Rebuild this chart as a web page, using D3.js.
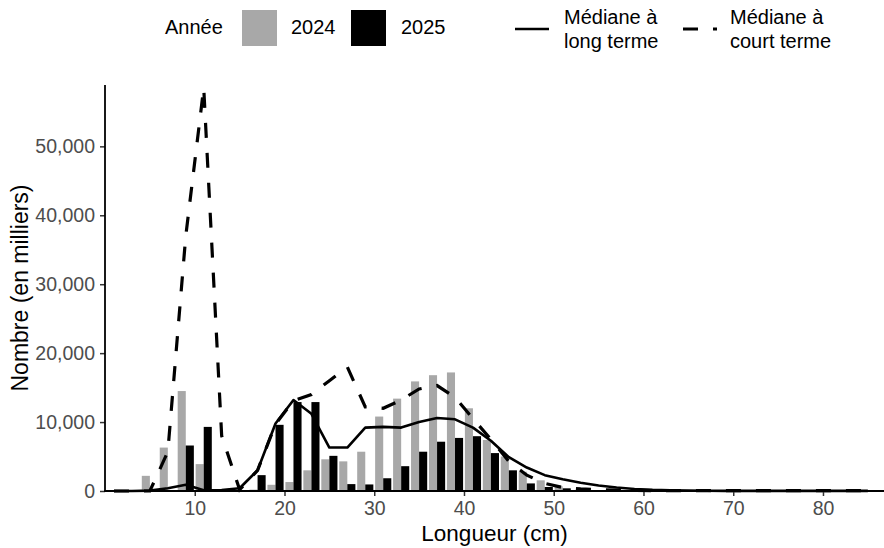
<!DOCTYPE html>
<html lang="fr">
<head>
<meta charset="utf-8">
<script src="https://cdn.jsdelivr.net/npm/d3@7"></script>
<style>
  html, body { margin: 0; padding: 0; background: #fff; }
  svg { display: block; font-family: "Liberation Sans", Arial, Helvetica, sans-serif; }
</style>
</head>
<body>
<svg id="chart" width="884" height="548"></svg>
<script>
// Length classes (cm), centre of each 2-cm bin
const lengths = [1, 3, 5, 7, 9, 11, 13, 15, 17, 19, 21, 23, 25, 27, 29, 31, 33, 35, 37, 39, 41,
  43, 45, 47, 49, 51, 53, 55, 57, 59, 61, 63, 65, 67, 69, 71, 73, 75, 77, 79, 81, 83, 85];

// Numbers at length (thousands), 2024 survey
const values2024 = [0, 0, 2200, 6300, 14500, 3900, 0, 0, 200, 900, 1300, 3000, 4600, 4300, 5700,
  10800, 13400, 15900, 16800, 17200, 12000, 7400, 5000, 2800, 1550, 680, 150, 60, 0, 0,
  0, 0, 0, 0, 0, 0, 0, 0, 0, 0, 0, 0, 0];

// Numbers at length (thousands), 2025 survey
const values2025 = [0, 0, 0, 0, 6600, 9300, 0, 0, 2300, 9600, 12900, 12900, 5100, 1000, 950,
  1850, 3600, 5700, 7150, 7700, 7950, 5500, 3000, 1100, 580, 390, 250, 120, 0, 0,
  0, 0, 0, 0, 0, 0, 0, 0, 0, 0, 0, 0, 0];

// Long-term median
const medianLong = [0, 0, 50, 400, 900, 100, 150, 400, 3000, 9800, 13200, 11200, 6300, 6300, 9200,
  9300, 9200, 10000, 10600, 10400, 9200, 7300, 4900, 3400, 2300, 1700, 1200, 800, 500, 300,
  170, 100, 60, 40, 20, 20, 20, 20, 20, 20, 20, 20, 20];

// Short-term median
const medianShort = [0, 0, 0, 5700, 37000, 58500, 8000, 200, 3000, 9700, 13100, 14000, 16000, 18000, 12200,
  12000, 13200, 14800, 15300, 13600, 10500, 7500, 4300, 2300, 1100, 500, 300, 200, 120, 80,
  50, 50, 50, 50, 50, 50, 50, 50, 50, 50, 50, 50, 50];

const yTicks = [0, 10000, 20000, 30000, 40000, 50000];
const xTicks = [10, 20, 30, 40, 50, 60, 70, 80];

const yearLabels = ["2024", "2025"];
const yearColors = ["#a8a8a8", "#000000"];
const lineLabels = [["Médiane à", "long terme"], ["Médiane à", "court terme"]];

const svg = d3.select("#chart");
const plot = { left: 105, right: 884, top: 85, bottom: 491 };

const x = d3.scaleLinear().domain([0, 86.8]).range([plot.left, plot.right]);
const y = d3.scaleLinear().domain([0, 58900]).range([plot.bottom, plot.top]);

const barW = 0.9; // cm per bar, two bars side by side in each 2-cm bin

// Bars
const bars = svg.append("g");
const series = [values2024, values2025];
series.forEach((vals, si) => {
  bars.selectAll(null)
    .data(lengths.map((l, i) => ({ l, v: vals[i] })).filter(d => d.v > 0))
    .join("rect")
    .attr("x", d => x(si === 0 ? d.l - barW : d.l))
    .attr("width", d => x(d.l + barW) - x(d.l))
    .attr("y", d => y(d.v))
    .attr("height", d => y(0) - y(d.v))
    .attr("fill", yearColors[si]);
});

// Median lines
const line = d3.line().x(d => x(d.l)).y(d => y(d.v));
svg.append("path")
  .datum(lengths.map((l, i) => ({ l, v: medianLong[i] })))
  .attr("d", line)
  .attr("fill", "none")
  .attr("stroke", "#000")
  .attr("stroke-width", 2.6)
  .attr("stroke-linejoin", "round");
svg.append("path")
  .datum(lengths.map((l, i) => ({ l, v: medianShort[i] })))
  .attr("d", line)
  .attr("fill", "none")
  .attr("stroke", "#000")
  .attr("stroke-width", 3.2)
  .attr("stroke-dasharray", "15,15");

// Axes
const yAxis = svg.append("g")
  .attr("transform", `translate(${plot.left},0)`)
  .call(d3.axisLeft(y).tickValues(yTicks).tickFormat(d3.format(",")).tickSize(5).tickPadding(5));
const xAxis = svg.append("g")
  .attr("transform", `translate(0,${plot.bottom})`)
  .call(d3.axisBottom(x).tickValues(xTicks).tickSize(5).tickPadding(5));

[yAxis, xAxis].forEach(g => {
  g.select(".domain").remove();
  g.selectAll(".tick line").attr("stroke", "#333").attr("stroke-width", 1.5);
  g.selectAll(".tick text").attr("fill", "#4d4d4d").attr("font-size", 19.5)
    .attr("font-family", "Liberation Sans, Arial, sans-serif");
});
svg.append("line")
  .attr("x1", plot.left).attr("x2", plot.left)
  .attr("y1", plot.top).attr("y2", plot.bottom + 0.75)
  .attr("stroke", "#000").attr("stroke-width", 1.8);
svg.append("line")
  .attr("x1", plot.left - 0.9).attr("x2", plot.right)
  .attr("y1", plot.bottom).attr("y2", plot.bottom)
  .attr("stroke", "#000").attr("stroke-width", 1.8);

// Axis titles
svg.append("text")
  .attr("x", (plot.left + plot.right) / 2).attr("y", 541)
  .attr("text-anchor", "middle").attr("font-size", 22.5).attr("fill", "#000")
  .text("Longueur (cm)");
svg.append("text")
  .attr("transform", `translate(28,${(plot.top + plot.bottom) / 2}) rotate(-90)`)
  .attr("text-anchor", "middle").attr("font-size", 23).attr("fill", "#000")
  .text("Nombre (en milliers)");

// Legend
const lg = svg.append("g").attr("font-size", 20).attr("fill", "#000");
lg.append("text").attr("x", 165).attr("y", 34).text("Année");
const keyX = [242, 351];
const textX = [291, 401];
yearLabels.forEach((lab, i) => {
  lg.append("rect").attr("x", keyX[i]).attr("y", 10).attr("width", 35).attr("height", 36)
    .attr("fill", yearColors[i]);
  lg.append("text").attr("x", textX[i]).attr("y", 34).text(lab);
});
const lineKeyX = [515, 683];
const lineTextX = [564, 730];
lineLabels.forEach((labs, i) => {
  lg.append("line")
    .attr("x1", lineKeyX[i]).attr("x2", lineKeyX[i] + 34)
    .attr("y1", 29).attr("y2", 29)
    .attr("stroke", "#000")
    .attr("stroke-width", i === 0 ? 2.6 : 3.2)
    .attr("stroke-dasharray", i === 0 ? null : "15,15");
  labs.forEach((t, j) => {
    lg.append("text").attr("x", lineTextX[i]).attr("y", 24 + j * 24).text(t);
  });
});
</script>
</body>
</html>
